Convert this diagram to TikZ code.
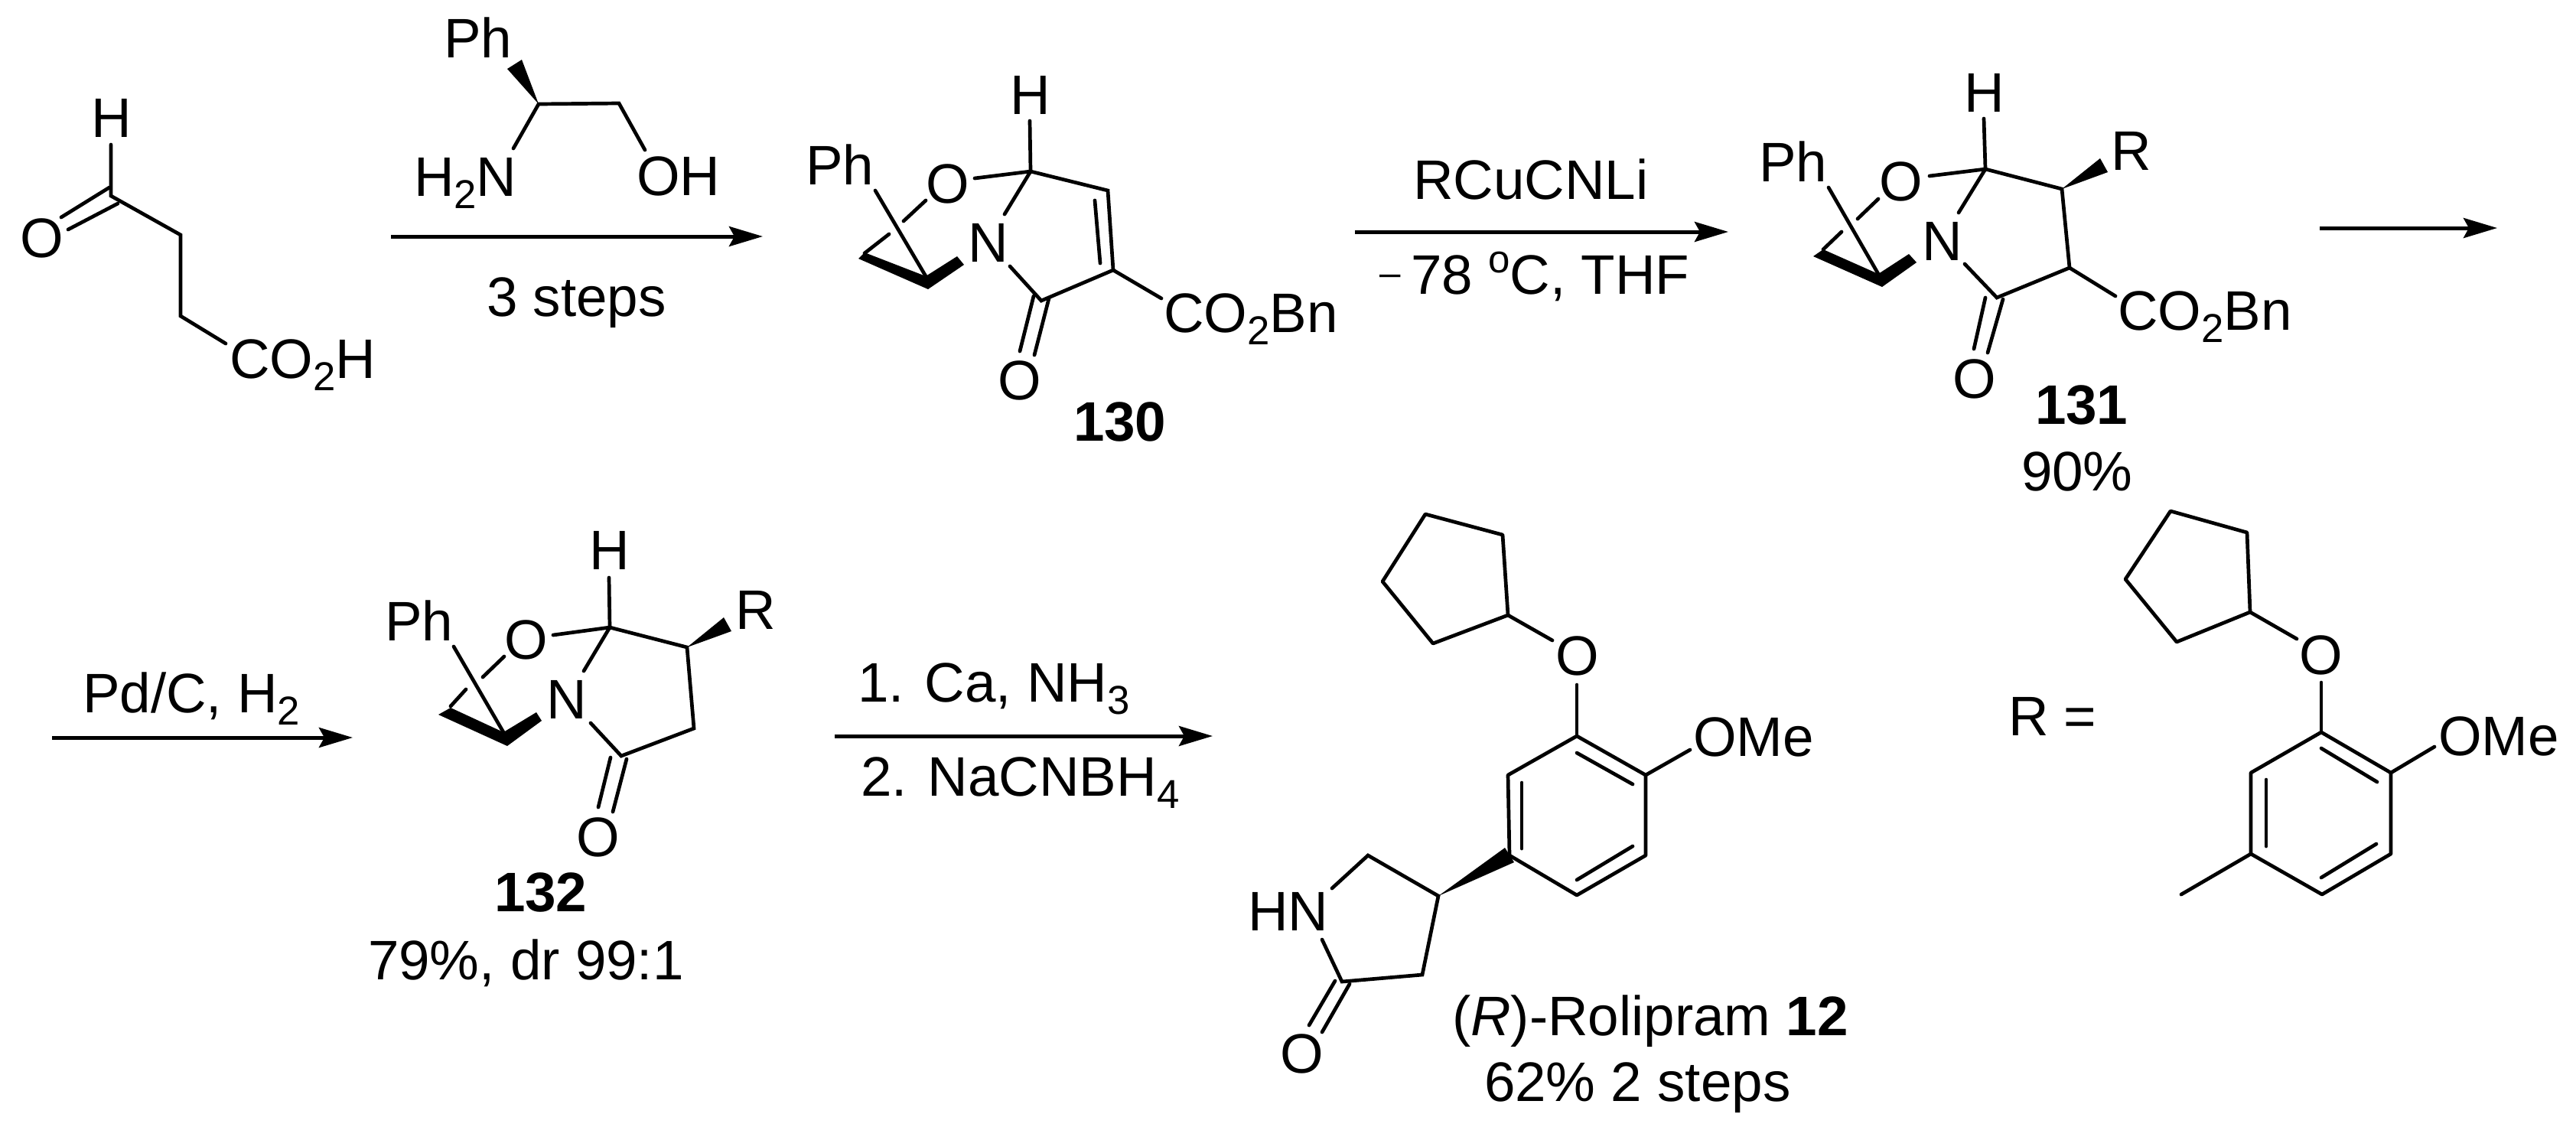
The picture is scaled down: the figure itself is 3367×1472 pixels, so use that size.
\documentclass[tikz,border=0pt]{standalone}
\usepackage{fontspec}
\setmainfont{Liberation Sans}
\usetikzlibrary{arrows.meta}
\newcommand{\chemsubs}[1]{\raisebox{-0.16cm}{\fontsize{15}{15}\selectfont #1}}
\tikzset{
  x=0.01cm,y=-0.01cm,
  bond/.style={line width=0.047cm,line cap=round,line join=miter,black},
  bold/.style={fill=black,draw=none},
  lbl/.style={anchor=base west,inner sep=0pt,outer sep=0pt,font=\fontsize{20.7}{24}\selectfont,text=black},
  bnum/.style={lbl,font=\fontsize{20.7}{24}\selectfont\bfseries},
  rxn/.style={line width=0.05cm,-{Stealth[length=0.44cm,width=0.26cm,inset=0.07cm]}},
}
\begin{document}
\begin{tikzpicture}
\useasboundingbox[fill=white] (0,0) rectangle (3367,1472);
% ---------- starting material
\draw[bond] (145,189) -- (145,256) -- (236,307) -- (236,413) -- (295,449);
\draw[bond] (143,245) -- (80,284);
\draw[bond] (154,266) -- (89,300);
\node[lbl] (h0) at (119,179) {H};
\node[lbl] (o0) at (26,336) {O};
\node[lbl] (cooh) at (300,494) {CO\chemsubs{2}H};
% ---------- phenylglycinol
\draw[bond] (671,194) -- (704,136) -- (809,135) -- (843,196);
\fill[bold] (704,136) -- (682,78) -- (663,90) -- cycle;
\node[lbl] (ph0) at (580,75) {Ph};
\node[lbl] (h2n) at (541,256) {H\chemsubs{2}N};
\node[lbl] (oh) at (832,255) {OH};
\coordinate (a1s) at (511,309); \coordinate (a1e) at (997,309);
\draw[rxn] (a1s) -- (a1e);
\node[lbl] (st3) at (636,413) {3 steps};
% ---------- 130
\draw[bond] (1346,158) -- (1347,224) -- (1448,249) -- (1455,353) -- (1361,393) -- (1320,348);
\draw[bond] (1347,224) -- (1274,233);
\draw[bond] (1347,224) -- (1313,280);
\draw[bond] (1431,262) -- (1438,344);
\draw[bond] (1351,387) -- (1333,459);
\draw[bond] (1371,390) -- (1352,464);
\draw[bond] (1455,353) -- (1518,390);
\draw[bond] (1144,249) -- (1210,361);
\draw[bond] (1210,262) -- (1181,289);
\draw[bond] (1162,306) -- (1130,331);
\fill[bold] (1122,338) -- (1130,330) -- (1210,361) -- (1251,335) -- (1260,346) -- (1213,378) -- cycle;
\node[lbl] (h130) at (1320,149) {H};
\node[lbl] (ph130) at (1053,241) {Ph};
\node[lbl] (o130) at (1210,265) {O};
\node[lbl] (n130) at (1265,342) {N};
\node[lbl] (oo130) at (1304,522) {O};
\node[lbl] (co130) at (1521,434) {CO\chemsubs{2}Bn};
\node[bnum] (t130) at (1403,576) {130};
% ---------- arrow 2
\coordinate (a2s) at (1771,303); \coordinate (a2e) at (2259,303);
\draw[rxn] (a2s) -- (a2e);
\node[lbl] (rcu) at (1847,260) {RCuCNLi};
\node[lbl] (cond) at (1803,384) {\raisebox{0.11cm}{\fontsize{14}{14}\selectfont –}\kern0.14cm 78 \raisebox{0.27cm}{\fontsize{14.5}{15}\selectfont o}C, THF};
% ---------- 131
\draw[bond] (2593,155) -- (2595,221) -- (2695,247) -- (2705,350) -- (2610,389) -- (2568,345);
\draw[bond] (2595,221) -- (2522,230);
\draw[bond] (2595,221) -- (2560,278);
\fill[bold] (2695,247) -- (2745,207) -- (2755,225) -- cycle;
\draw[bond] (2595,389) -- (2580,456);
\draw[bond] (2618,391) -- (2598,461);
\draw[bond] (2705,350) -- (2765,387);
\draw[bond] (2390,245) -- (2455,358);
\draw[bond] (2455,260) -- (2428,286);
\draw[bond] (2407,303) -- (2383,326);
\fill[bold] (2370,335) -- (2383,326) -- (2455,358) -- (2495,332) -- (2505,343) -- (2460,375) -- cycle;
\node[lbl] (h131) at (2567,146) {H};
\node[lbl] (r131) at (2759,222) {R};
\node[lbl] (ph131) at (2299,237) {Ph};
\node[lbl] (o131) at (2456,262) {O};
\node[lbl] (n131) at (2512,340) {N};
\node[lbl] (oo131) at (2552,520) {O};
\node[lbl] (co131) at (2768,431) {CO\chemsubs{2}Bn};
\node[bnum] (t131) at (2660,554) {131};
\node[lbl] (y131) at (2642,641) {90\%};
% ---------- arrow 3
\coordinate (a3s) at (3032,298); \coordinate (a3e) at (3264,298);
\draw[rxn] (a3s) -- (a3e);
% ---------- arrow Pd/C
\coordinate (a5s) at (68,964); \coordinate (a5e) at (461,964);
\draw[rxn] (a5s) -- (a5e);
\node[lbl] (pd) at (108,931) {Pd/C, H\chemsubs{2}};
% ---------- 132
\draw[bond] (796,755) -- (797,820) -- (898,846) -- (907,952) -- (812,988) -- (772,945);
\draw[bond] (797,820) -- (723,830);
\draw[bond] (797,820) -- (763,877);
\fill[bold] (898,846) -- (946,807) -- (956,825) -- cycle;
\draw[bond] (798,990) -- (782,1055);
\draw[bond] (819,992) -- (801,1061);
\draw[bond] (593,845) -- (658,957);
\draw[bond] (659,858) -- (631,885);
\draw[bond] (609,901) -- (589,923);
\fill[bold] (573,934) -- (589,925) -- (658,957) -- (701,931) -- (708,942) -- (663,975) -- cycle;
\node[lbl] (h132) at (770,744) {H};
\node[lbl] (r132) at (961,822) {R};
\node[lbl] (ph132) at (503,837) {Ph};
\node[lbl] (o132) at (659,861) {O};
\node[lbl] (n132) at (714,939) {N};
\node[lbl] (oo132) at (753,1119) {O};
\node[bnum] (t132) at (646,1191) {132};
\node[lbl] (y132) at (481,1280) {79\%, dr 99:1};
% ---------- arrow 4
\coordinate (a4s) at (1091,962); \coordinate (a4e) at (1585,962);
\draw[rxn] (a4s) -- (a4e);
\node[lbl] (ca) at (1121,917) {1. Ca, NH\chemsubs{3}};
\node[lbl] (nacn) at (1125,1040) {2. NaCNBH\chemsubs{4}};
% ---------- rolipram
\draw[bond,line join=round] (1863,672) -- (1964,699) -- (1971,804) -- (1873,841) -- (1807,760) -- cycle;
\draw[bond] (1971,804) -- (2029,837);
\draw[bond] (2061,895) -- (2061,962);
\draw[bond,line join=round] (2061,962) -- (2151,1013) -- (2151,1118) -- (2061,1170) -- (1973,1118) -- (1971,1013) -- cycle;
\draw[bond] (2061,984) -- (2134,1025);
\draw[bond] (1989,1023) -- (1989,1109);
\draw[bond] (2134,1106) -- (2061,1150);
\draw[bond] (2151,1013) -- (2209,980);
\fill[bold] (1880,1171) -- (1967,1108) -- (1979,1127) -- cycle;
\draw[bond] (1741,1161) -- (1788,1118) -- (1880,1171) -- (1859,1274) -- (1754,1283) -- (1728,1228);
\draw[bond] (1745,1282) -- (1711,1340);
\draw[bond] (1764,1286) -- (1728,1349);
\node[lbl] (o12) at (2033,882) {O};
\node[lbl] (ome12) at (2213,988) {OMe};
\node[lbl] (hn12) at (1631,1216) {HN};
\node[lbl] (oo12) at (1673,1402) {O};
\node[lbl] (nm12) at (1898,1353) {(\textit{R})-Rolipram \textbf{12}};
\node[lbl] (y12) at (1940,1439) {62\% 2 steps};
% ---------- R group
\node[lbl] (req) at (2625,961) {R =};
\draw[bond,line join=round] (2837,668) -- (2937,696) -- (2941,800) -- (2845,839) -- (2778,757) -- cycle;
\draw[bond] (2941,800) -- (3002,835);
\draw[bond] (3034,892) -- (3034,957);
\draw[bond,line join=round] (3034,957) -- (3125,1010) -- (3125,1116) -- (3035,1169) -- (2942,1116) -- (2942,1010) -- cycle;
\draw[bond] (3034,978) -- (3107,1022);
\draw[bond] (2962,1019) -- (2962,1106);
\draw[bond] (3106,1103) -- (3034,1147);
\draw[bond] (2942,1116) -- (2851,1169);
\draw[bond] (3125,1010) -- (3182,976);
\node[lbl] (orr) at (3005,881) {O};
\node[lbl] (omer) at (3187,987) {OMe};
\end{tikzpicture}
\end{document}
